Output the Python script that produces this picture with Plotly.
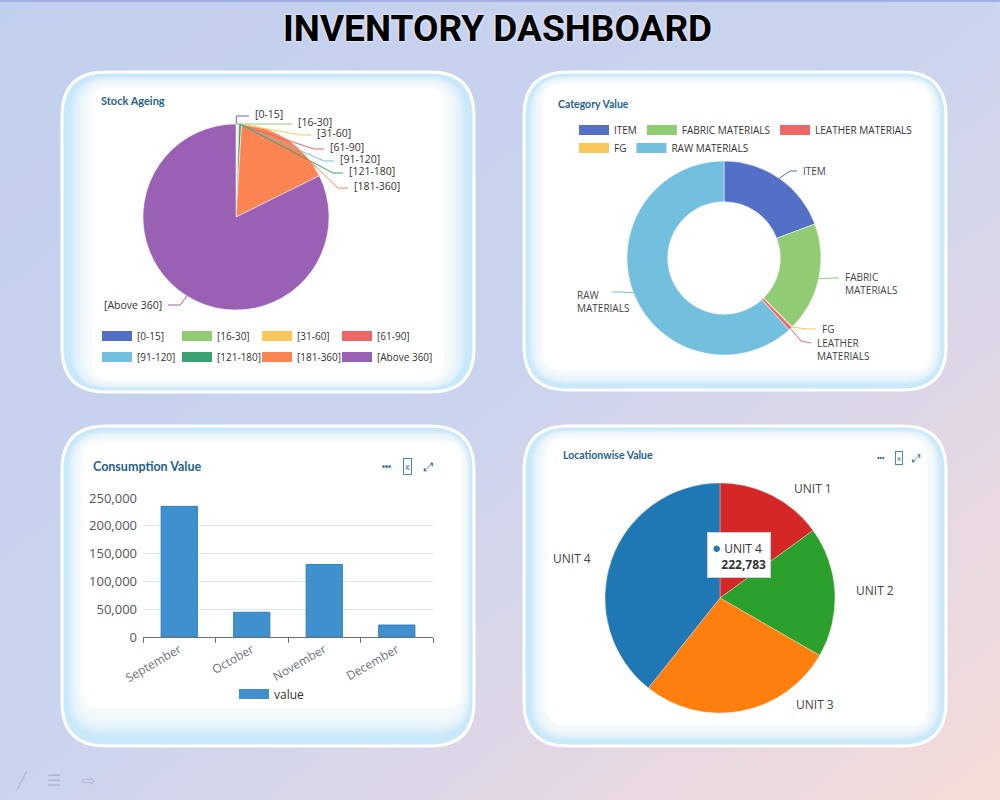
import numpy as np
import plotly.graph_objects as go

W, H = 1000, 800

# ---- data ----
age_labels = ["[0-15]", "[16-30]", "[31-60]", "[61-90]", "[91-120]",
              "[121-180]", "[181-360]", "[Above 360]"]
age_values = [120, 80, 150, 60, 90, 450, 16800, 82500]
age_colors = ["#5470c6", "#91cc75", "#fac858", "#ee6666", "#73c0de",
              "#3ba272", "#fc8452", "#9a60b4"]

cat_labels = ["ITEM", "FABRIC MATERIALS", "FG", "LEATHER MATERIALS", "RAW MATERIALS"]
cat_values = [112000, 106000, 600, 3500, 358000]
cat_colors = ["#5470c6", "#91cc75", "#fac858", "#ee6666", "#73c0de"]
cat_legend_rows = [["ITEM", "FABRIC MATERIALS", "LEATHER MATERIALS"],
                   ["FG", "RAW MATERIALS"]]

months = ["September", "October", "November", "December"]
consumption = [235000, 44500, 130500, 21500]

units = ["UNIT 1", "UNIT 2", "UNIT 3", "UNIT 4"]
unit_values = [85100, 103800, 155300, 222783]
unit_colors = ["#d62728", "#2ca02c", "#ff7f0e", "#1f77b4"]


# ---- helpers (pixel -> paper) ----
def px(x):
    return x / W


def py(y):
    return 1 - y / H


def P(x, y):
    return f"{px(x):.5f},{py(y):.5f}"


def mid_angles(values):
    v = np.asarray(values, float)
    frac = v / v.sum() * 360
    end = np.cumsum(frac)
    return end - frac / 2


def edge(cx, cy, r, a):
    t = np.radians(a)
    return cx + r * np.sin(t), cy - r * np.cos(t)


def domain(cx, cy, r):
    return dict(x=[px(cx - r), px(cx + r)], y=[py(cy + r), py(cy - r)])


def rounded(x0, y0, x1, y1, r):
    return (f"M {P(x0 + r, y0)} L {P(x1 - r, y0)} Q {P(x1, y0)} {P(x1, y0 + r)} "
            f"L {P(x1, y1 - r)} Q {P(x1, y1)} {P(x1 - r, y1)} L {P(x0 + r, y1)} "
            f"Q {P(x0, y1)} {P(x0, y1 - r)} L {P(x0, y0 + r)} Q {P(x0, y0)} {P(x0 + r, y0)} Z")


def hexmix(c1, c2, t):
    a = [int(c1[i:i + 2], 16) for i in (1, 3, 5)]
    b = [int(c2[i:i + 2], 16) for i in (1, 3, 5)]
    return "#" + "".join(f"{round(x + (y - x) * t):02x}" for x, y in zip(a, b))


def note(text, x, y, **kw):
    d = dict(text=text, x=px(x), y=py(y), xref="paper", yref="paper", showarrow=False,
             xanchor="center", yanchor="middle")
    d.update(kw)
    return d


shapes = []
annotations = []

# background diagonal gradient
stops = [(0, "#c1cfee"), (0.5, "#cbd4ee"), (0.75, "#e2d7e5"), (1.0, "#f6dcd8")]
N = 60
for i in range(N):
    t = (i + 0.5) / N
    for (t0, c0), (t1, c1) in zip(stops[:-1], stops[1:]):
        if t0 <= t <= t1:
            col = hexmix(c0, c1, (t - t0) / (t1 - t0))
    s0, s1 = 2 * i / N, 2 * (i + 1) / N + 0.004
    path = f"M {s0 + 0.1},1.1 L {s1 + 0.1},1.1 L {s1 - 1.1},-0.1 L {s0 - 1.1},-0.1 Z"
    shapes.append(dict(type="path", path=path, xref="paper", yref="paper",
                       fillcolor=col, line=dict(width=0), layer="below"))
shapes.append(dict(type="rect", xref="paper", yref="paper", x0=0, x1=1, y0=py(2), y1=1,
                   fillcolor="#9fb2e2", line=dict(width=0), layer="below"))

# panels: outer light-blue card with a soft white interior
panels = [((62, 72, 474, 392), (30, 16, 30, 12)),
          ((524, 72, 946, 390), (19, 12, 16, 20)),
          ((62, 426, 474, 746), (21, 16, 12, 38)),
          ((524, 426, 946, 746), (23, 12, 19, 21))]
for (x0, y0, x1, y1), (il, it, ir, ib) in panels:
    shapes.append(dict(type="path", path=rounded(x0, y0, x1, y1, 44), xref="paper", yref="paper",
                       fillcolor="#c9e8f9", line=dict(color="white", width=3), layer="below"))
    for k in range(10):
        f = 0.3 + 0.07 * k
        shapes.append(dict(type="path", xref="paper", yref="paper", layer="below",
                           path=rounded(x0 + il * f, y0 + it * f, x1 - ir * f, y1 - ib * f,
                                        max(44 - f * 24, 16)),
                           fillcolor="rgba(255,255,255,0.2)", line=dict(width=0)))
    shapes.append(dict(type="path", xref="paper", yref="paper", layer="below",
                       path=rounded(x0 + il, y0 + it, x1 - ir, y1 - ib, 18),
                       fillcolor="white", line=dict(width=0)))

fig = go.Figure()

# ---- Stock Ageing pie ----
scx, scy, sr = 236, 217, 93
fig.add_trace(go.Pie(labels=age_labels, values=age_values, sort=False, direction="clockwise",
                     marker=dict(colors=age_colors, line=dict(color="white", width=0.5)),
                     textinfo="none", domain=domain(scx, scy, sr), showlegend=False))
age_text_pos = [(253, 114), (296, 122), (315, 133), (328, 147), (338, 159),
                (347, 171), (352, 186), (164, 305)]
for lab, col, a, (tx, ty) in zip(age_labels, age_colors, mid_angles(age_values), age_text_pos):
    ex, ey = edge(scx, scy, sr, a)
    if lab == age_labels[0]:
        path = f"M {P(ex, ey)} L {P(ex, ty + 2)} L {P(tx - 4, ty + 2)}"
        anchor = "left"
    elif tx > scx:
        path = f"M {P(ex, ey)} L {P(tx - 14, ty + 2)} L {P(tx - 4, ty + 2)}"
        anchor = "left"
    else:
        path = f"M {P(ex, ey)} L {P(tx + 16, ty)} L {P(tx + 4, ty)}"
        anchor = "right"
    shapes.append(dict(type="path", path=path, xref="paper", yref="paper",
                       line=dict(color=col, width=1)))
    annotations.append(note(lab, tx, ty, xanchor=anchor, font=dict(size=10.5, color="#333")))

# ---- Category Value donut ----
ccx, ccy, cr = 724, 258, 97
fig.add_trace(go.Pie(labels=cat_labels, values=cat_values, sort=False, direction="clockwise",
                     hole=0.58, marker=dict(colors=cat_colors, line=dict(color="white", width=0.5)),
                     textinfo="none", domain=domain(ccx, ccy, cr), showlegend=False))
cat_text_pos = [(801, 171), (843, 283), (820, 329), (815, 349), (575, 302)]
cat_elbow = [(790, 171), (833, 278), (808, 329), (801, 341), (622, 292)]
cat_end = [(797, 171), (839, 278), (816, 329), (811, 343), (612, 292)]
for lab, col, a, (tx, ty), el, en in zip(cat_labels, cat_colors, mid_angles(cat_values),
                                          cat_text_pos, cat_elbow, cat_end):
    ex, ey = edge(ccx, ccy, cr, a)
    shapes.append(dict(type="path", xref="paper", yref="paper", line=dict(color=col, width=1),
                       path=f"M {P(ex, ey)} L {P(*el)} L {P(*en)}"))
    annotations.append(note(lab.replace(" ", "<br>"), tx, ty, xanchor="left", align="left",
                            font=dict(size=10, color="#444")))

# ---- Locationwise Value pie ----
lcx, lcy, lr = 720, 598, 115
fig.add_trace(go.Pie(labels=units, values=unit_values, sort=False, direction="clockwise",
                     marker=dict(colors=unit_colors, line=dict(color="rgba(255,255,255,0.6)", width=0.5)),
                     textinfo="none", domain=domain(lcx, lcy, lr), showlegend=False))
unit_text_pos = [(813, 489), (875, 590), (815, 704), (572, 558)]
for lab, (tx, ty) in zip(units, unit_text_pos):
    annotations.append(note(lab, tx, ty, font=dict(size=12, color="#444")))
annotations.append(note(
    f"<span style='color:{unit_colors[3]};font-size:15px'>●</span> {units[3]}<br>"
    f"\u00a0\u00a0\u00a0<b>{unit_values[3]:,}</b>",
    739, 555, align="left", bgcolor="white", bordercolor="#cfcfcf", borderwidth=1,
    borderpad=4, font=dict(size=12, color="#333")))

# ---- Consumption Value bars ----
fig.add_trace(go.Bar(x=months, y=consumption, width=0.5, showlegend=False,
                     marker=dict(color="#3f90cd", line=dict(color="#2f80c0", width=1))))

# ---- legends built from the data lists ----
for i, rows in enumerate([age_labels[:4], age_labels[4:]]):
    for lab in rows + [" "]:
        col = age_colors[age_labels.index(lab)] if lab.strip() else "rgba(0,0,0,0)"
        fig.add_trace(go.Scatter(x=[None], y=[None], mode="lines", name=lab,
                                 legend="legend" if i == 0 else "legend2",
                                 line=dict(color=col, width=10)))
for i, rows in enumerate(cat_legend_rows):
    for lab in rows:
        fig.add_trace(go.Scatter(x=[None], y=[None], mode="lines", name=lab,
                                 legend=f"legend{3 + i}",
                                 line=dict(color=cat_colors[cat_labels.index(lab)], width=10)))
fig.add_trace(go.Scatter(x=[None], y=[None], mode="lines", name="value", legend="legend5",
                         line=dict(color="#3f90cd", width=10)))

leg = dict(orientation="h", bgcolor="rgba(0,0,0,0)", xanchor="left", yanchor="middle",
           itemclick=False, itemdoubleclick=False, traceorder="normal")
fig.update_layout(
    legend=dict(leg, x=px(97), y=py(336), entrywidth=35, font=dict(size=10, color="#333")),
    legend2=dict(leg, x=px(97), y=py(357), entrywidth=35, font=dict(size=10, color="#333")),
    legend3=dict(leg, x=px(574), y=py(130), font=dict(size=10, color="#333")),
    legend4=dict(leg, x=px(574), y=py(148), font=dict(size=10, color="#333")),
    legend5=dict(leg, x=px(234), y=py(694), font=dict(size=12, color="#333")),
)

# ---- panel titles and icons ----
for text, x, y, size in [("Stock Ageing", 99, 100, 11), ("Category Value", 556, 104, 10.5),
                         ("Consumption Value", 91, 466, 12.5), ("Locationwise Value", 561, 455, 10.5)]:
    annotations.append(note(f"<b>{text}</b>", x, y, xanchor="left",
                            font=dict(size=size, color="#24628f", family="Lato")))
for (x1, x2, x3, y, s) in [(386, 407, 428, 466, 9), (881, 899, 916, 458, 7.5)]:
    annotations.append(note("<b>•••</b>", x1, y, font=dict(size=s - 1, color="#24628f")))
    annotations.append(note("x", x2, y, borderpad=1, bordercolor="#4a86b4", borderwidth=1,
                            font=dict(size=s, color="#24628f")))
    annotations.append(note("⤢", x3, y, font=dict(size=s + 3, color="#24628f")))

# ---- page title and faint slide icons ----
annotations.append(note("INVENTORY DASHBOARD", 497, 28,
                        font=dict(size=37, color="black", family="Roboto", weight="bold",
                                  shadow="0px 0px 3px white")))
for t, x in [("╱", 22), ("☰", 54), ("⇨", 88)]:
    annotations.append(note(t, x, 780, font=dict(size=16, color="rgba(160,165,185,0.6)")))

fig.update_xaxes(domain=[px(143), px(433)], showline=True, linecolor="#6e7079", ticks="outside",
                 tickson="boundaries", ticklen=5, tickcolor="#6e7079", tickangle=-30,
                 tickfont=dict(size=12, color="#6e7079"), showgrid=False, fixedrange=True)
fig.update_yaxes(domain=[py(637), py(498)], range=[0, 250000], dtick=50000, tickformat=",d",
                 gridcolor="#e0e6f1", showline=False, zeroline=False, ticklabelstandoff=5,
                 tickfont=dict(size=13, color="#555"), fixedrange=True)

fig.update_layout(width=W, height=H, margin=dict(l=0, r=0, t=0, b=0, autoexpand=False),
                  paper_bgcolor="#c8d3ee", plot_bgcolor="rgba(0,0,0,0)",
                  font=dict(family="Open Sans"), shapes=shapes, annotations=annotations,
                  hovermode="closest")

fig.write_html("out.html", config={"displayModeBar": False},
               post_script="document.body.style.margin='0';")
